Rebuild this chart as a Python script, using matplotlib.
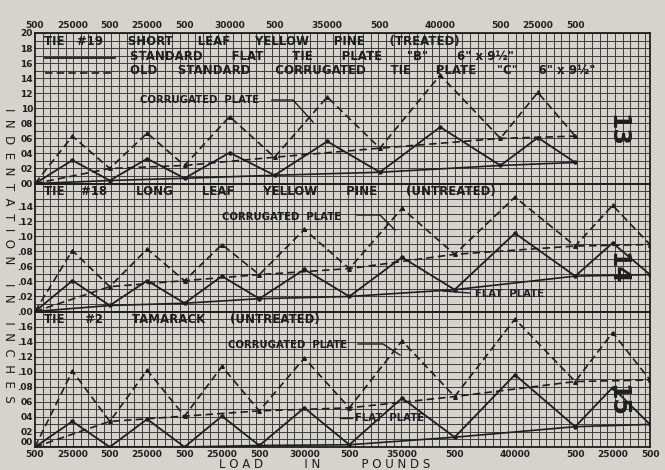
import numpy as np
import matplotlib
matplotlib.use('Agg')
import matplotlib.pyplot as plt
from matplotlib.ticker import MultipleLocator
from matplotlib.lines import Line2D

# load sequence (pounds) for each tie
loads_19 = [500, 25000, 500, 25000, 500, 30000, 500, 35000, 500, 40000, 500, 25000, 500]
loads_long = [500, 25000, 500, 25000, 500, 25000, 500, 30000, 500, 35000, 500, 40000, 500, 25000, 500]

# indentation in inches
flat_19 = [0.000, 0.031, 0.004, 0.033, 0.007, 0.041, 0.011, 0.056, 0.015, 0.075, 0.024, 0.061, 0.028]
corr_19 = [0.000, 0.063, 0.020, 0.067, 0.024, 0.089, 0.035, 0.115, 0.047, 0.144, 0.060, 0.121, 0.063]
flat_18 = [0.000, 0.041, 0.008, 0.041, 0.011, 0.047, 0.017, 0.056, 0.020, 0.072, 0.029, 0.104, 0.047, 0.091, 0.049]
corr_18 = [0.000, 0.081, 0.033, 0.083, 0.041, 0.089, 0.049, 0.109, 0.057, 0.137, 0.076, 0.152, 0.087, 0.141, 0.089]
flat_2 = [0.000, 0.034, 0.000, 0.037, 0.000, 0.041, 0.002, 0.052, 0.003, 0.065, 0.013, 0.096, 0.027, 0.079, 0.030]
corr_2 = [0.000, 0.101, 0.034, 0.102, 0.041, 0.107, 0.048, 0.118, 0.052, 0.141, 0.067, 0.170, 0.087, 0.152, 0.089]

titles = ['TIE   #19      SHORT      LEAF      YELLOW      PINE      (TREATED)',
          'TIE    #18       LONG       LEAF       YELLOW       PINE       (UNTREATED)',
          'TIE     #2       TAMARACK      (UNTREATED)']
ylabels = [['00', '02', '04', '06', '08', '10', '12', '14', '16', '18', '20'],
           ['.00', '.02', '.04', '.06', '.08', '.10', '.12', '.14'],
           ['00', '02', '04', '06', '.08', '.10', '.12', '.14', '.16']]
numbers = ['13', '14', '15']
ymax = [0.20, 0.17, 0.18]

PAPER = '#d6d3cc'
INK = '#1e1e1e'
GRIDC = '#3c3c3c'
DASH = (0, (4.5, 2.5))


def cum_x(loads):
    # horizontal position = total load travelled from the start
    return np.concatenate([[0], np.cumsum(np.abs(np.diff(loads)))])


W, H = 665, 470
fig = plt.figure(figsize=(W / 100, H / 100), dpi=100, facecolor=PAPER)


def fx(px):
    return px / W


def fy(py):
    return 1 - py / H


gs = fig.add_gridspec(3, 1, height_ratios=ymax, hspace=0,
                      left=fx(35), right=fx(650), top=fy(33), bottom=fy(447))
axes = [fig.add_subplot(gs[i]) for i in range(3)]

series = [(loads_19, flat_19, corr_19), (loads_long, flat_18, corr_18), (loads_long, flat_2, corr_2)]

for i, (ax, (loads, flat, corr)) in enumerate(zip(axes, series)):
    x = cum_x(loads)
    ax.set_facecolor(PAPER)
    ax.set_xlim(0, 403000)
    ax.set_ylim(0, ymax[i])
    ax.xaxis.set_minor_locator(MultipleLocator(5000))
    ax.yaxis.set_minor_locator(MultipleLocator(0.01))
    ax.set_yticks(np.arange(len(ylabels[i])) * 0.02)
    ax.set_yticklabels(ylabels[i])
    ax.grid(which='minor', color=GRIDC, lw=0.7)
    ax.grid(which='major', axis='y', color=GRIDC, lw=0.7)
    ax.tick_params(which='both', length=0, labelsize=6.5, colors=INK, pad=1.5)
    ax.tick_params(axis='x', pad=2.5)
    for s in ax.spines.values():
        s.set_color(INK)
        s.set_linewidth(1.3)
    ax.set_axisbelow(True)

    ax.plot(x, flat, color=INK, lw=1.3, marker='o', ms=2.2)
    ax.plot(x, corr, color=INK, lw=1.2, ls=DASH, marker='^', ms=2.6)
    # permanent set after each release to 500 lb
    ax.plot(x[::2], flat[::2], color=INK, lw=1.2)
    ax.plot(x[::2], corr[::2], color=INK, lw=1.2, ls=DASH)

    ax.set_xticks(x)
    ax.set_xticklabels([str(v) for v in loads])
    if i == 0:
        ax.xaxis.tick_top()
    elif i == 1:
        ax.tick_params(axis='x', labelbottom=False)
    for lab in ax.get_xticklabels() + ax.get_yticklabels():
        lab.set_fontweight('bold')

    ax.text(0.015, 0.99, titles[i], transform=ax.transAxes, ha='left', va='top',
            fontsize=8.5, color=INK, fontweight='bold')

# keep the corner "00" clear of the first load label
axes[2].get_yticklabels()[0].set_verticalalignment('bottom')

# legend rows at the head of the sheet
fig.add_artist(Line2D([fx(45), fx(115)], [fy(58), fy(58)], color=INK, lw=1.3))
fig.add_artist(Line2D([fx(45), fx(115)], [fy(73), fy(73)], color=INK, lw=1.2, ls=DASH))
fig.text(fx(130), fy(57), 'STANDARD       FLAT       TIE       PLATE      "B"       6" x 9\u00bd"',
         fontsize=8.5, color=INK, fontweight='bold', va='center')
fig.text(fx(130), fy(70), 'OLD     STANDARD      CORRUGATED      TIE      PLATE     "C"     6" x 9\u00bd"',
         fontsize=8.5, color=INK, fontweight='bold', va='center')

# callouts
callouts = [('CORRUGATED  PLATE', 140, 100, [(272, 100), (293, 100), (313, 122)]),
            ('CORRUGATED  PLATE', 222, 217, [(357, 215), (380, 215), (395, 230)]),
            ('CORRUGATED  PLATE', 228, 345, [(358, 344), (383, 344), (400, 355)]),
            ('FLAT  PLATE', 475, 294, [(443, 291), (470, 293)]),
            ('FLAT  PLATE', 355, 418, [(340, 418), (352, 418)])]
for txt, tx, ty, pts in callouts:
    fig.text(fx(tx), fy(ty), txt, fontsize=7.3, color=INK, fontweight='bold', va='center')
    fig.add_artist(Line2D([fx(p[0]) for p in pts], [fy(p[1]) for p in pts], color=INK, lw=1.0))

for num, py in zip(numbers, [130, 268, 400]):
    fig.text(fx(617), fy(py), num, rotation=-90, fontsize=17, fontweight='bold',
             color=INK, ha='center', va='center')

fig.text(fx(8), fy(255), 'I  N  D  E  N  T  A  T  I  O  N     I  N     I  N  C  H  E  S',
         rotation=-90, fontsize=8.5, color=INK, ha='center', va='center')
fig.text(fx(325), fy(465), 'L O A D           I N           P O U N D S',
         fontsize=8.5, color=INK, ha='center', va='center')

fig.savefig('out.png', dpi=100, facecolor=PAPER)
